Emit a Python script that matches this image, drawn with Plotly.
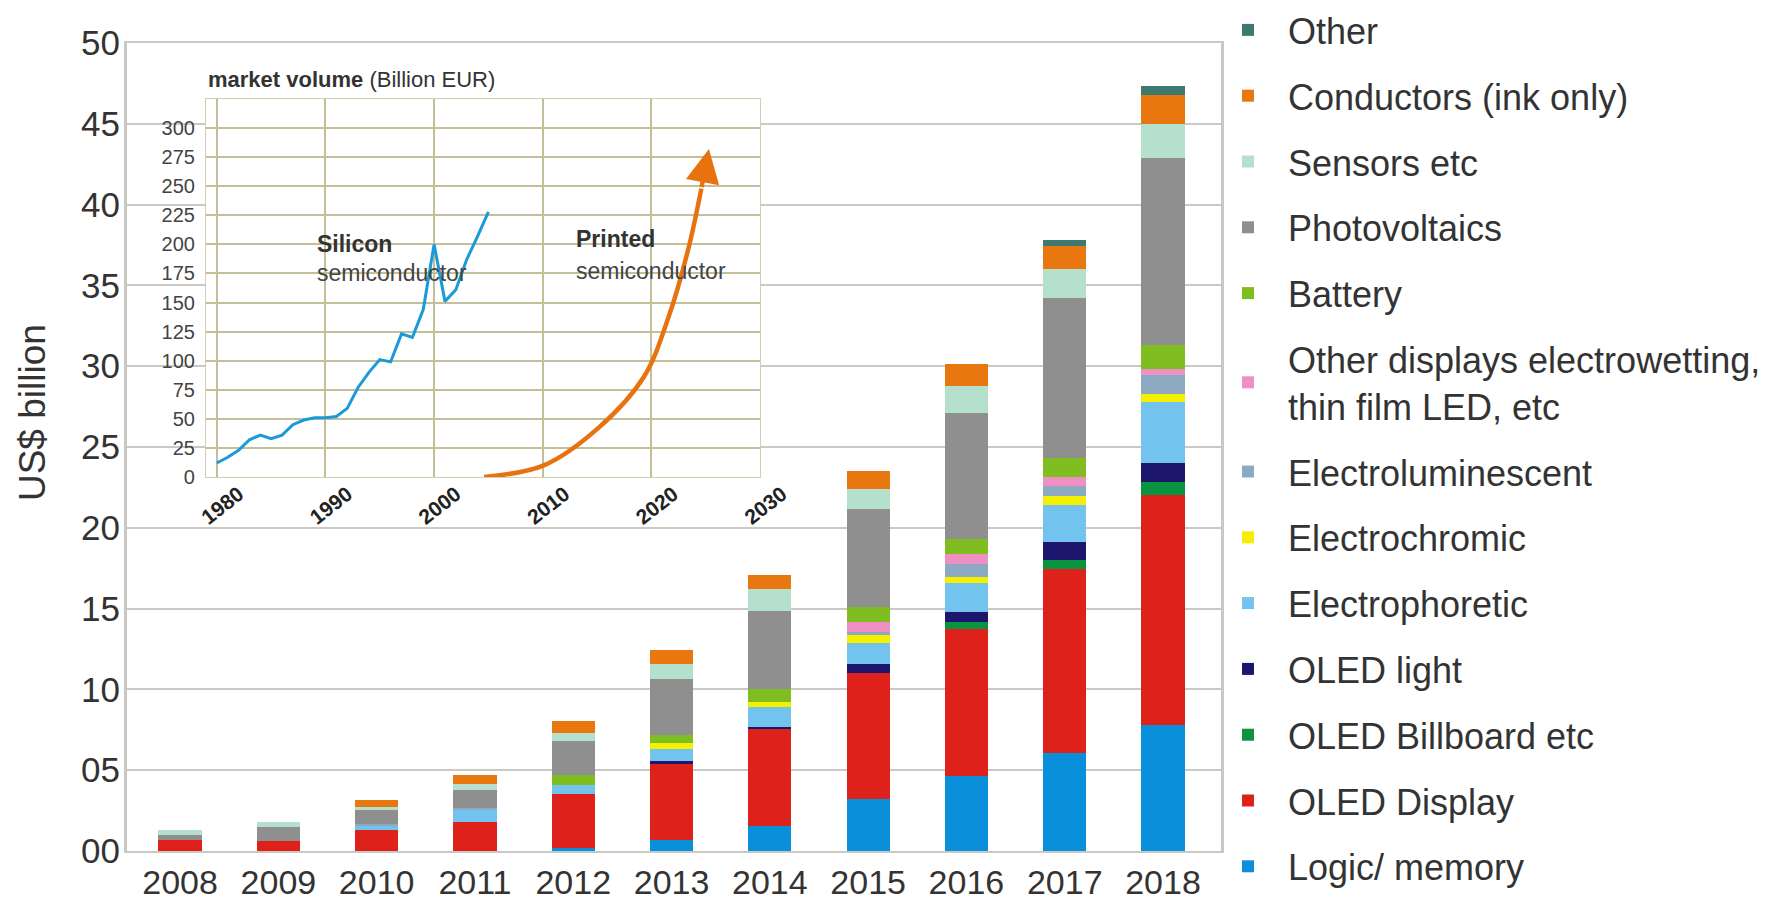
import plotly.graph_objects as go

# ---------------- main chart data (US$ billion) ----------------
years = ["2008", "2009", "2010", "2011", "2012", "2013", "2014", "2015", "2016", "2017", "2018"]

logic_memory = [0, 0, 0, 0, 0.2, 0.66, 1.57, 3.2, 4.65, 6.05, 7.8]
oled_display = [0.65, 0.61, 1.27, 1.82, 3.3, 4.75, 5.98, 7.8, 9.1, 11.4, 14.2]
oled_billboard = [0, 0, 0, 0, 0, 0, 0, 0, 0.42, 0.55, 0.85]
oled_light = [0, 0, 0, 0, 0, 0.14, 0.15, 0.58, 0.63, 1.1, 1.15]
electrophoretic = [0, 0, 0.33, 0.73, 0.6, 0.75, 1.22, 1.32, 1.8, 2.3, 3.8]
electrochromic = [0, 0, 0, 0, 0, 0.4, 0.33, 0.45, 0.35, 0.55, 0.45]
electroluminescent = [0, 0, 0.08, 0.14, 0, 0, 0, 0.21, 0.8, 0.65, 1.2]
other_displays = [0, 0, 0, 0, 0, 0, 0, 0.64, 0.6, 0.53, 0.4]
battery = [0, 0, 0, 0, 0.6, 0.45, 0.75, 0.88, 0.95, 1.17, 1.45]
photovoltaics = [0.31, 0.86, 0.87, 1.09, 2.1, 3.51, 4.84, 6.1, 7.83, 9.9, 11.6]
sensors = [0.34, 0.35, 0.18, 0.38, 0.5, 0.94, 1.36, 1.22, 1.64, 1.8, 2.1]
conductors = [0, 0, 0.41, 0.53, 0.75, 0.85, 0.88, 1.13, 1.38, 1.45, 1.8]
other = [0, 0, 0, 0, 0, 0, 0, 0, 0, 0.35, 0.55]

series_names = [
    "Logic/ memory", "OLED Display", "OLED Billboard etc", "OLED light",
    "Electrophoretic", "Electrochromic", "Electroluminescent",
    "Other displays electrowetting,<br>thin film LED, etc", "Battery",
    "Photovoltaics", "Sensors etc", "Conductors (ink only)", "Other",
]
series_values = [
    logic_memory, oled_display, oled_billboard, oled_light, electrophoretic,
    electrochromic, electroluminescent, other_displays, battery,
    photovoltaics, sensors, conductors, other,
]
series_colors = [
    "#0a8fdb", "#df211b", "#0a9441", "#1d166d", "#72c3ee", "#f5f000",
    "#8eaac2", "#ee90c4", "#80bd20", "#8f8f8f", "#b4e0cd", "#e8770f", "#3c7a70",
]

y_tickvals = [0, 5, 10, 15, 20, 25, 30, 35, 40, 45, 50]
y_ticktext = ["00", "05", "10", "15", "20", "25", "30", "35", "40", "45", "50"]

# ---------------- inset data (market volume, billion EUR) ----------------
silicon_years = [1980, 1981, 1982, 1983, 1984, 1985, 1986, 1987, 1988, 1989, 1990,
                 1991, 1992, 1993, 1994, 1995, 1996, 1997, 1998, 1999, 2000,
                 2001, 2002, 2003, 2004, 2005]
silicon_values = [12, 17, 23, 32, 36, 33, 36, 45, 49, 51, 51,
                  52, 59, 77, 90, 101, 99, 123, 120, 144, 200,
                  151, 161, 187, 207, 228]
printed_years = [2004.6, 2010.1, 2015.1, 2019.3, 2021.6, 2023.4, 2024.6]
printed_values = [0, 10, 42, 86, 138, 196, 248]
printed_tip_year = 2025.3
printed_tip_value = 282

inset_x_ticks = [1980, 1990, 2000, 2010, 2020, 2030]
inset_y_ticks = [0, 25, 50, 75, 100, 125, 150, 175, 200, 225, 250, 275, 300]

FONT = "Liberation Sans, Arial, sans-serif"
TXT = "#333333"

fig = go.Figure()

n = len(series_names)
for i, (name, vals, col) in enumerate(zip(series_names, series_values, series_colors)):
    fig.add_trace(go.Bar(
        x=years, y=vals, name=name, marker=dict(color=col, line=dict(width=0)),
        width=0.44, legendgroup=name, legendrank=1000 + n - i, xaxis="x", yaxis="y",
    ))

# inset traces
fig.add_trace(go.Scatter(
    x=silicon_years, y=silicon_values, mode="lines",
    line=dict(color="#1a9ad9", width=3), xaxis="x2", yaxis="y2", showlegend=False,
))
fig.add_trace(go.Scatter(
    x=printed_years, y=printed_values, mode="lines", line_shape="spline",
    line=dict(color="#e8720e", width=4.5), xaxis="x2", yaxis="y2", showlegend=False,
))

fig.add_annotation(
    x=printed_tip_year, y=printed_tip_value, xref="x2", yref="y2",
    ax=printed_years[-1], ay=printed_values[-1], axref="x2", ayref="y2",
    showarrow=True, arrowhead=2, arrowsize=1.5, arrowwidth=4.5, arrowcolor="#e8720e", text="",
)

ann_font = dict(family=FONT, size=23, color=TXT)
sub_font = dict(family=FONT, size=23, color="#444")
fig.add_annotation(x=1989.0, y=200, xref="x2", yref="y2", text="<b>Silicon</b>",
                   showarrow=False, xanchor="left", font=ann_font)
fig.add_annotation(x=1989.0, y=175, xref="x2", yref="y2", text="semiconductor",
                   showarrow=False, xanchor="left", font=sub_font)
fig.add_annotation(x=2012.9, y=205, xref="x2", yref="y2", text="<b>Printed</b>",
                   showarrow=False, xanchor="left", font=ann_font)
fig.add_annotation(x=2012.9, y=177, xref="x2", yref="y2", text="semiconductor",
                   showarrow=False, xanchor="left", font=sub_font)
fig.add_annotation(x=0, y=1.053, xref="x2 domain", yref="y2 domain",
                   text="<b>market volume</b> (Billion EUR)", showarrow=False,
                   xanchor="left", yanchor="middle", font=dict(family=FONT, size=22, color=TXT))

# y-axis title
fig.add_annotation(x=-0.087, y=0.543, xref="paper", yref="paper", text="US$ billion",
                   textangle=-90, showarrow=False, xanchor="center", yanchor="middle",
                   font=dict(family=FONT, size=37, color=TXT))

fig.add_shape(type="rect", xref="x2 domain", yref="y2 domain", x0=0, x1=1, y0=0, y1=1,
              fillcolor="#fdf6c2", line=dict(color="#d2ceb2", width=2), layer="below")

fig.update_layout(
    width=1768, height=902,
    margin=dict(l=127, r=547, t=0, b=0, autoexpand=False),
    paper_bgcolor="white", plot_bgcolor="white",
    barmode="stack", bargap=0.5,
    font=dict(family=FONT, color=TXT),
    showlegend=True,
    legend=dict(
        traceorder="grouped", tracegroupgap=16, itemwidth=70,
        x=0.9881, xanchor="left", y=1.0, yanchor="top",
        font=dict(family=FONT, size=36, color=TXT), bgcolor="rgba(0,0,0,0)",
        itemclick=False, itemdoubleclick=False,
    ),
    xaxis=dict(
        domain=[0, 1], range=[-0.54, 10.59], type="category", automargin=False,
        showgrid=False, showline=True, mirror=True, linecolor="#c9c9c4", linewidth=2,
        ticks="", tickfont=dict(family=FONT, size=34, color=TXT), ticklabelstandoff=0,
    ),
    yaxis=dict(
        domain=[0.05654, 0.95233], range=[0, 50], tickvals=y_tickvals, ticktext=y_ticktext,
        automargin=False,
        showgrid=True, gridcolor="#cbc9c1", gridwidth=2,
        showline=True, mirror=True, linecolor="#c9c9c4", linewidth=3, zeroline=False,
        ticks="", tickfont=dict(family=FONT, size=35, color=TXT), ticklabelstandoff=-3,
    ),
    xaxis2=dict(
        domain=[0.0722, 0.5786], range=[1979, 2030], anchor="y2", automargin=False,
        tickvals=inset_x_ticks, tickangle=-38, ticklabelshift=22, ticklabelstandoff=0,
        showgrid=True, gridcolor="#c3bf98", gridwidth=2,
        zeroline=False, showline=False, ticks="",
        tickfont=dict(family=FONT, size=21, color="#222", weight="bold"),
    ),
    yaxis2=dict(
        domain=[0.4712, 0.8902], range=[0, 325], anchor="x2", automargin=False,
        tickvals=inset_y_ticks, showgrid=True, gridcolor="#c3bf98", gridwidth=2,
        zeroline=False, showline=False, ticks="", ticklabelstandoff=10,
        tickfont=dict(family=FONT, size=20, color="#444"),
    ),
)

fig.write_html(
    "out.html",
    config={"displayModeBar": False},
    post_script="document.body.style.margin='0px'; document.body.style.overflow='hidden';",
)
